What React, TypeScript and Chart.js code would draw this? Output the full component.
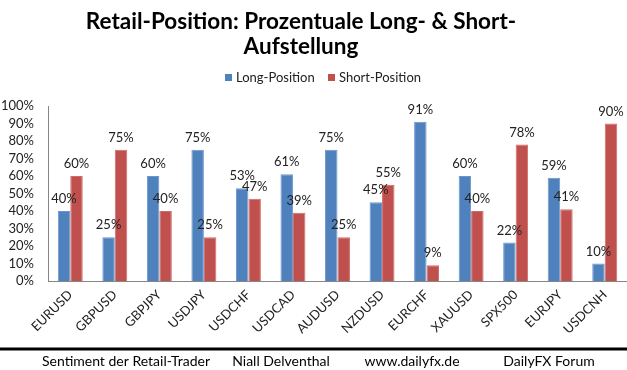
import React, { useEffect, useRef } from "react";
import { Chart, registerables } from "chart.js";

Chart.register(...registerables);

const categories = ["EURUSD", "GBPUSD", "GBPJPY", "USDJPY", "USDCHF", "USDCAD", "AUDUSD", "NZDUSD", "EURCHF", "XAUUSD", "SPX500", "EURJPY", "USDCNH"];
const longValues = [40, 25, 60, 75, 53, 61, 75, 45, 91, 60, 22, 59, 10];
const shortValues = [60, 75, 40, 25, 47, 39, 25, 55, 9, 40, 78, 41, 90];
const seriesNames = ["Long-Position", "Short-Position"];
const titleLines = ["Retail-Position: Prozentuale Long- & Short-", "Aufstellung"];
const footerTexts = ["Sentiment der Retail-Trader", "Niall Delventhal", "www.dailyfx.de", "DailyFX Forum"];

const FONT = "Lato, 'Open Sans', sans-serif";
const BLUE = "#4F81BD";
const RED = "#C0504D";

const decorPlugin = {
  id: "decor",
  afterDraw(chart: any) {
    const ctx = chart.ctx;
    ctx.save();
    // title
    ctx.fillStyle = "#000";
    ctx.font = `bold 22.5px ${FONT}`;
    ctx.textAlign = "center";
    ctx.textBaseline = "middle";
    ctx.fillText(titleLines[0], 301, 22);
    ctx.fillText(titleLines[1], 301, 47);

    // legend
    const legendX = [225, 328];
    ctx.font = `13px ${FONT}`;
    ctx.textAlign = "left";
    chart.data.datasets.forEach((ds: any, i: number) => {
      ctx.fillStyle = ds.backgroundColor;
      ctx.fillRect(legendX[i], 74, 7, 7);
      ctx.fillStyle = "#222";
      ctx.fillText(ds.label, legendX[i] + 11, 78);
    });

    // data labels
    ctx.font = `13px ${FONT}`;
    ctx.textAlign = "center";
    ctx.fillStyle = "#222";
    chart.data.datasets.forEach((ds: any, i: number) => {
      const meta = chart.getDatasetMeta(i);
      meta.data.forEach((bar: any, j: number) => {
        ctx.fillText(ds.data[j] + "%", bar.x, bar.y - 12);
      });
    });

    // footer
    ctx.fillStyle = "#000";
    ctx.fillRect(0, 347.5, 627, 3);
    ctx.font = `14px ${FONT}`;
    const footerX = [126, 281, 412, 549];
    footerTexts.forEach((t, i) => ctx.fillText(t, footerX[i], 361));
    ctx.restore();
  },
};

export default function App() {
  const ref = useRef<HTMLCanvasElement>(null);
  useEffect(() => {
    document.body.style.margin = "0";
    const chart = new Chart(ref.current as HTMLCanvasElement, {
      type: "bar",
      data: {
        labels: categories,
        datasets: [
          { label: seriesNames[0], data: longValues, backgroundColor: BLUE, borderColor: "#6A96CC", borderWidth: 1 },
          { label: seriesNames[1], data: shortValues, backgroundColor: RED, borderColor: "#CF6A67", borderWidth: 1 },
        ],
      },
      options: {
        responsive: false,
        animation: false,
        layout: { padding: { top: 106, left: 0, right: 0, bottom: 0 } },
        datasets: { bar: { categoryPercentage: 0.56, barPercentage: 1 } },
        plugins: { legend: { display: false }, title: { display: false }, tooltip: { enabled: false } },
        scales: {
          x: {
            grid: { display: false, drawTicks: false },
            border: { display: true, color: "#868686" },
            ticks: { font: { family: FONT, size: 13 }, color: "#222", minRotation: 45, maxRotation: 45, padding: 6, autoSkip: false },
            afterFit: (s: any) => { s.height = 89; },
          },
          y: {
            min: 0,
            max: 100,
            grid: { display: false, drawTicks: false },
            border: { display: true, color: "#868686" },
            ticks: { stepSize: 10, autoSkip: false, font: { family: FONT, size: 13 }, color: "#222", padding: 14, callback: (v: any) => v + "%" },
            afterFit: (s: any) => { s.width = 48; },
          },
        },
      },
      plugins: [decorPlugin],
    });
    return () => chart.destroy();
  }, []);
  return (
    <div style={{ width: 627, height: 370 }}>
      <canvas ref={ref} width={627} height={370} />
    </div>
  );
}
